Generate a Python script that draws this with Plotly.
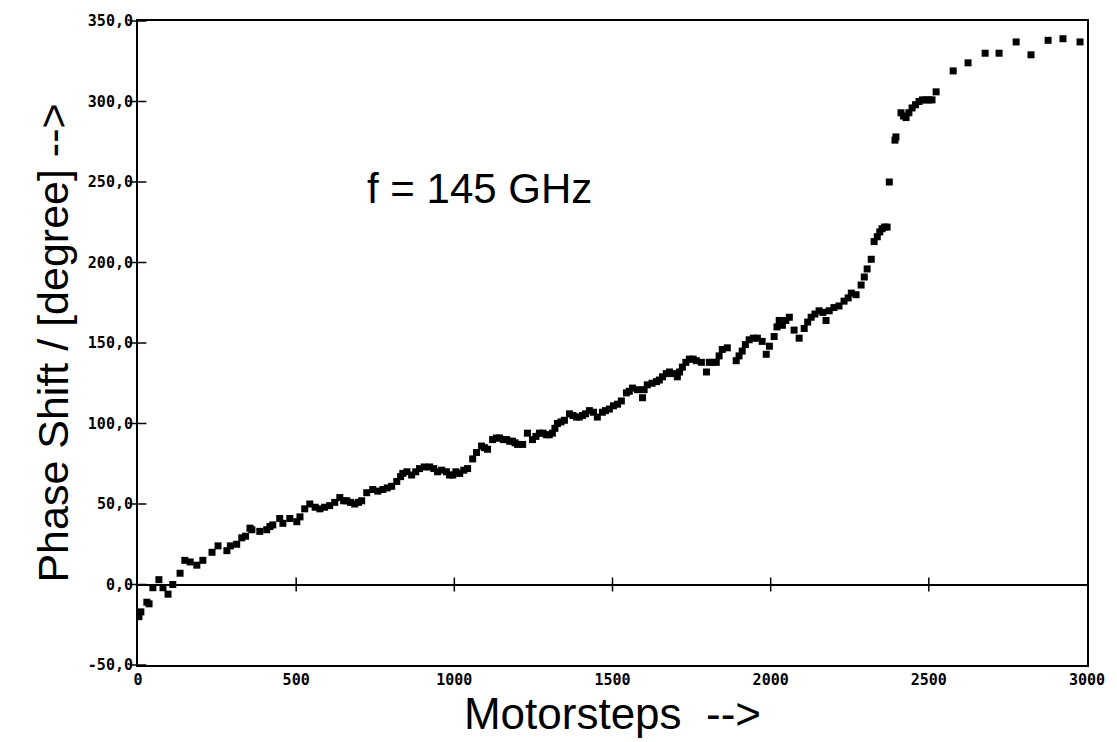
import plotly.graph_objects as go

# Motorsteps (x) and phase shift in degrees (y)
motorsteps = [3, 9, 28, 35, 47, 66, 79, 95, 110, 133, 148, 165, 186, 205, 234, 253, 281, 292, 312, 328,
              340, 354, 360, 385, 407, 417, 426, 448, 458, 480, 502, 512, 527, 543, 560, 575, 590, 606, 622, 638,
              650, 660, 672, 685, 697, 707, 723, 742, 758, 774, 788, 802, 818, 830, 837, 850, 865, 878, 890, 905,
              922, 935, 947, 960, 975, 985, 995, 1005, 1017, 1030, 1042, 1058, 1070, 1086, 1095, 1105, 1121, 1133, 1143, 1155,
              1165, 1175, 1184, 1192, 1200, 1216, 1231, 1247, 1258, 1269, 1280, 1291, 1300, 1310, 1318, 1326, 1337, 1348, 1364, 1375,
              1386, 1395, 1405, 1415, 1427, 1440, 1452, 1468, 1478, 1490, 1503, 1516, 1528, 1544, 1553, 1563, 1579, 1595, 1600, 1610,
              1625, 1639, 1648, 1658, 1670, 1680, 1692, 1705, 1712, 1721, 1732, 1743, 1755, 1765, 1781, 1797, 1806, 1817, 1828, 1837,
              1847, 1863, 1891, 1900, 1910, 1920, 1932, 1945, 1958, 1973, 1986, 1996, 2011, 2020, 2027, 2037, 2048, 2059, 2074, 2090,
              2106, 2117, 2128, 2140, 2153, 2165, 2175, 2185, 2200, 2216, 2232, 2245, 2255, 2270, 2286, 2296, 2305, 2318, 2327, 2337,
              2345, 2352, 2360, 2368, 2375, 2393, 2396, 2412, 2420, 2428, 2437, 2447, 2458, 2469, 2480, 2491, 2500, 2510, 2523, 2577,
              2624, 2678, 2722, 2776, 2823, 2877, 2924, 2978]
phase_deg = [-20, -17, -11, -12, -2, 3, -2, -6, 0, 7, 15, 14, 12, 15, 20, 24, 21, 24, 25, 29,
             30, 35, 34, 33, 34, 36, 37, 41, 38, 41, 39, 42, 47, 50, 48, 47, 48, 49, 51, 54,
             52, 52, 51, 50, 51, 52, 57, 59, 58, 59, 60, 61, 64, 67, 69, 70, 68, 70, 72, 73,
             73, 72, 70, 71, 70, 68, 68, 70, 69, 71, 72, 78, 82, 86, 85, 84, 90, 91, 91, 90,
             90, 89, 89, 88, 87, 87, 94, 90, 92, 94, 94, 93, 93, 94, 97, 100, 101, 102, 106, 105,
             104, 104, 105, 106, 108, 107, 104, 107, 108, 109, 111, 112, 114, 119, 120, 122, 121, 116, 121, 124,
             125, 126, 127, 129, 131, 132, 131, 129, 132, 135, 138, 140, 140, 139, 138, 132, 138, 138, 138, 142,
             146, 147, 139, 142, 145, 149, 152, 153, 153, 151, 143, 148, 154, 160, 164, 161, 164, 166, 158, 153,
             159, 163, 166, 168, 170, 169, 164, 170, 172, 173, 176, 178, 181, 180, 186, 191, 196, 202, 213, 216,
             219, 221, 222, 222, 250, 276, 278, 293, 291, 290, 293, 296, 298, 300, 301, 301, 301, 301, 306, 319,
             324, 330, 330, 337, 329, 338, 339, 337]

x_ticks = [0, 500, 1000, 1500, 2000, 2500, 3000]
x_ticklabels = ["0", "500", "1000", "1500", "2000", "2500", "3000"]
y_ticks = [-50, 0, 50, 100, 150, 200, 250, 300, 350]
y_ticklabels = ["-50,0", "0,0", "50,0", "100,0", "150,0", "200,0", "250,0", "300,0", "350,0"]

tick_font = dict(family="DejaVu Sans Mono", size=15, color="black", weight="bold")

fig = go.Figure()
fig.add_trace(go.Scatter(
    x=motorsteps, y=phase_deg, mode="markers",
    marker=dict(symbol="square", size=7, color="black"),
    showlegend=False, hoverinfo="skip",
))
# tick crosses on the zero line
fig.add_trace(go.Scatter(
    x=x_ticks[1:-1], y=[0] * (len(x_ticks) - 2), mode="markers",
    marker=dict(symbol="line-ns", size=10, line=dict(width=1.5, color="black")),
    showlegend=False, hoverinfo="skip", cliponaxis=False,
))
# tick crosses on the left axis
fig.add_trace(go.Scatter(
    x=[0] * len(y_ticks), y=y_ticks, mode="markers",
    marker=dict(symbol="line-ew", size=12, line=dict(width=1.5, color="black")),
    showlegend=False, hoverinfo="skip", cliponaxis=False,
))

fig.update_layout(
    width=1117, height=742,
    margin=dict(l=138, r=29, t=15, b=77),
    paper_bgcolor="white", plot_bgcolor="white",
    xaxis=dict(
        range=[0, 3000], tickvals=x_ticks, ticktext=x_ticklabels,
        showgrid=False, zeroline=False, showline=True, mirror=True,
        linecolor="black", linewidth=2, ticks="", tickfont=tick_font,
        title=dict(text="Motorsteps  -->", font=dict(family="Liberation Sans", size=44, color="black"), standoff=4),
    ),
    yaxis=dict(
        range=[-50, 350], tickvals=y_ticks, ticktext=y_ticklabels,
        showgrid=False, zeroline=True, zerolinecolor="black", zerolinewidth=2,
        showline=True, mirror=True, linecolor="black", linewidth=2,
        ticks="", tickfont=tick_font,
        title=dict(text="Phase Shift / [degree] -->", font=dict(family="Liberation Sans", size=43, color="black"), standoff=6),
    ),
    annotations=[dict(
        x=1080, y=246, xref="x", yref="y", text="f = 145 GHz", showarrow=False,
        font=dict(family="Liberation Sans", size=42, color="black"),
    )],
)

fig.write_html("out.html")
